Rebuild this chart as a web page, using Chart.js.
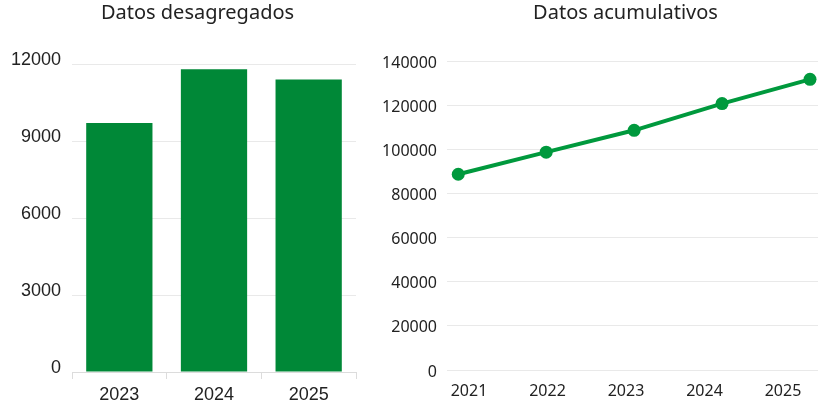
<!DOCTYPE html>
<html>
<head>
<meta charset="utf-8">
<script src="https://cdn.jsdelivr.net/npm/chart.js@4"></script>
<style>
  body { margin: 0; width: 826px; height: 408px; overflow: hidden; position: relative; background: #fff; }
  .box { position: absolute; top: 0; height: 408px; }
</style>
</head>
<body>
<div class="box" style="left:0;width:395px"><canvas id="barChart" width="395" height="408"></canvas></div>
<div class="box" style="left:370px;width:511px"><canvas id="lineChart" width="511" height="408"></canvas></div>
<script>
const barYears = ['2023', '2024', '2025'];
const barValues = [9700, 11800, 11400];

const lineYears = [2021, 2022, 2023, 2024, 2025];
const lineValues = [88700, 98700, 108600, 120700, 131700];

const barColor = '#008837';
const lineColor = '#00993d';
const gridColor = '#e9e9e9';

initBarChart();
initLineChart();

// empty axis on the right, only to reserve room so the title stays centred
function spacerAxis(width) {
    return {
        type: 'linear',
        position: 'right',
        display: true,
        grid: { display: false },
        border: { display: false },
        ticks: { display: false },
        afterFit: scale => { scale.width = width; }
    };
}

function initBarChart() {
    const ctx = document.getElementById('barChart').getContext('2d');
    new Chart(ctx, {
        type: 'bar',
        data: {
            labels: barYears,
            datasets: [{
                data: barValues,
                backgroundColor: barColor,
                categoryPercentage: 0.7,
                barPercentage: 1
            }]
        },
        options: {
            responsive: false,
            animation: false,
            layout: { padding: 0 },
            plugins: {
                legend: { display: false },
                tooltip: { enabled: false },
                title: {
                    display: true,
                    text: 'Datos desagregados',
                    color: '#222',
                    font: { family: "'Noto Sans'", size: 20, weight: 'normal' },
                    padding: { top: 1, bottom: 39 }
                }
            },
            scales: {
                x: {
                    grid: { drawOnChartArea: false, color: '#dcdcdc', tickLength: 7, offset: true },
                    border: { color: '#dcdcdc' },
                    afterFit: scale => { scale.height = 36; },
                    ticks: { color: '#222', padding: 5, font: { family: "'Liberation Sans', Arial", size: 18 } }
                },
                y: {
                    min: 0,
                    max: 12000,
                    grid: { color: gridColor, drawTicks: false },
                    border: { display: false },
                    afterFit: scale => { scale.width = 72; },
                    ticks: {
                        stepSize: 3000,
                        color: '#222',
                        padding: 11,
                        labelOffset: -4,
                        callback: value => String(value),
                        font: { family: "'Liberation Sans', Arial", size: 18 }
                    }
                },
                spacer: spacerAxis(39)
            }
        }
    });
}

function initLineChart() {
    const ctx = document.getElementById('lineChart').getContext('2d');
    new Chart(ctx, {
        type: 'line',
        data: {
            datasets: [{
                data: lineYears.map((year, i) => ({ x: year, y: lineValues[i] })),
                borderColor: lineColor,
                backgroundColor: lineColor,
                borderWidth: 4,
                pointRadius: 6.5,
                pointBackgroundColor: lineColor,
                pointBorderWidth: 0,
                tension: 0,
                fill: false,
                xAxisID: 'x'
            }]
        },
        options: {
            responsive: false,
            animation: false,
            layout: { padding: 0 },
            plugins: {
                legend: { display: false },
                tooltip: { enabled: false },
                title: {
                    display: true,
                    text: 'Datos acumulativos',
                    color: '#222',
                    font: { family: "'Noto Sans'", size: 20, weight: 'normal' },
                    padding: { top: 1, bottom: 36 }
                }
            },
            scales: {
                x: {
                    type: 'linear',
                    display: false,
                    min: 2020.872,
                    max: 2025.091
                },
                x2: {
                    type: 'linear',
                    position: 'bottom',
                    min: 2020.72,
                    max: 2025.446,
                    grid: { display: false },
                    border: { display: false },
                    afterBuildTicks: scale => { scale.ticks = lineYears.map(v => ({ value: v })); },
                    afterFit: scale => { scale.height = 38; },
                    ticks: {
                        color: '#222',
                        padding: 4,
                        maxRotation: 0,
                        callback: value => String(value),
                        font: { family: "'Noto Sans'", size: 16 }
                    }
                },
                y: {
                    min: 0,
                    max: 140000,
                    grid: { color: gridColor, drawTicks: false },
                    border: { display: false },
                    afterFit: scale => { scale.width = 77; },
                    ticks: {
                        stepSize: 20000,
                        color: '#222',
                        padding: 10,
                        labelOffset: 2,
                        callback: value => String(value),
                        font: { family: "'Noto Sans'", size: 16 }
                    }
                },
                spacer: spacerAxis(63)
            }
        }
    });
}
</script>
</body>
</html>
